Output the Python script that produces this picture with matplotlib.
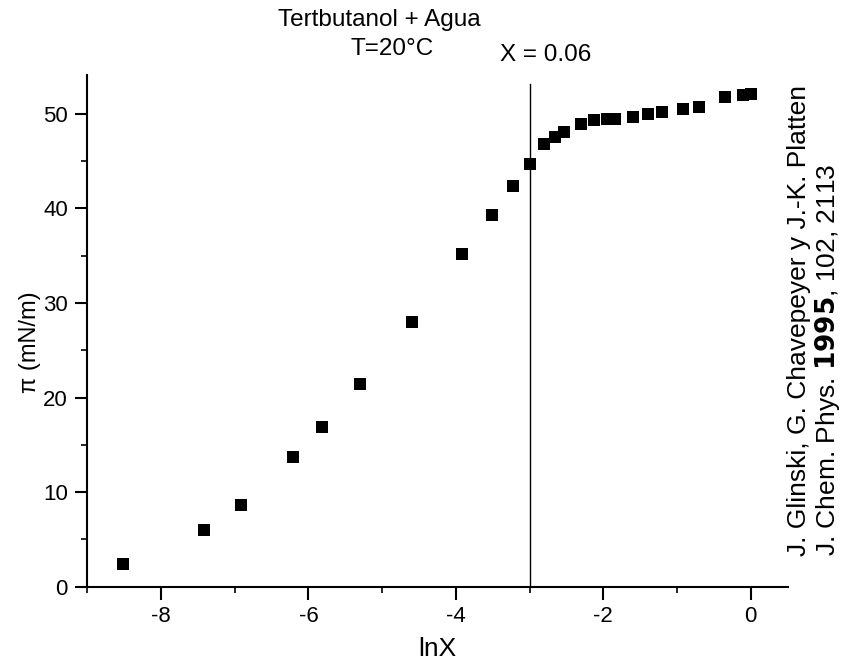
import numpy as np
import matplotlib
matplotlib.use("Agg")
import matplotlib.pyplot as plt
from matplotlib.ticker import MultipleLocator

plt.rcParams["font.family"] = ["Liberation Sans", "DejaVu Sans"]
plt.rcParams["axes.unicode_minus"] = False

# Surface pressure of tert-butanol + water at 20 °C versus ln of mole fraction
ln_x = [-8.52, -7.42, -6.91, -6.21, -5.81, -5.30, -4.60, -3.91, -3.51, -3.22,
        -3.00, -2.81, -2.66, -2.53, -2.30, -2.12, -1.95, -1.84, -1.60, -1.39,
        -1.20, -0.92, -0.70, -0.35, -0.10, 0.00]
pressure = [2.37, 6.03, 8.65, 13.69, 16.87, 21.38, 27.98, 35.2, 39.3, 42.4,
            44.7, 46.8, 47.6, 48.1, 48.9, 49.3, 49.4, 49.4, 49.7, 50.0,
            50.2, 50.55, 50.7, 51.8, 52.0, 52.1]

cmc_ln_x = -3.0
cmc_line_top = 53.2

fig = plt.figure(figsize=(8.49, 6.64), dpi=100)
ax = fig.add_axes([0.1028, 0.1164, 0.9285 - 0.1028, 0.887 - 0.1164])

ax.scatter(ln_x, pressure, marker="s", s=64, color="black", linewidths=0, zorder=3)
ax.plot([cmc_ln_x, cmc_ln_x], [0, cmc_line_top], color="black", lw=1.0)

ax.set_xlim(-9, 0.51)
ax.set_ylim(0, 54.1)
ax.xaxis.set_major_locator(MultipleLocator(2))
ax.xaxis.set_minor_locator(MultipleLocator(1))
ax.yaxis.set_major_locator(MultipleLocator(10))
ax.yaxis.set_minor_locator(MultipleLocator(5))

for side in ("top", "right"):
    ax.spines[side].set_visible(False)
for side in ("left", "bottom"):
    ax.spines[side].set_linewidth(1.5)

ax.tick_params(which="major", direction="out", length=9, width=1.5, labelsize=16, pad=5)
ax.tick_params(which="minor", direction="out", length=4.5, width=1.2)

ax.set_xlabel("lnX", fontsize=19)
ax.xaxis.set_label_coords(0.499, -0.098)
ax.set_ylabel("\u03c0 (mN/m)", fontsize=17)
ax.yaxis.set_label_coords(-0.066, 0.478)

fig.text(379 / 849, 1 - 26 / 664, "Tertbutanol + Agua", ha="center",
         va="baseline", fontsize=17.5)
fig.text(392 / 849, 1 - 55 / 664, "T=20\u00b0C", ha="center",
         va="baseline", fontsize=17.5)
fig.text(546 / 849, 1 - 61 / 664, "X = 0.06", ha="center",
         va="baseline", fontsize=17.5)

fig.text(811 / 849, 1 - 556 / 664, "J. Glinski, G. Chavepeyer y J.-K. Platten",
         rotation=90, ha="right", va="bottom", fontsize=19)
fig.text(842 / 849, 1 - 556 / 664,
         r"J. Chem. Phys. $\mathbf{1995}$, 102, 2113",
         rotation=90, ha="right", va="bottom", fontsize=19)

fig.savefig("out.png", dpi=100)
